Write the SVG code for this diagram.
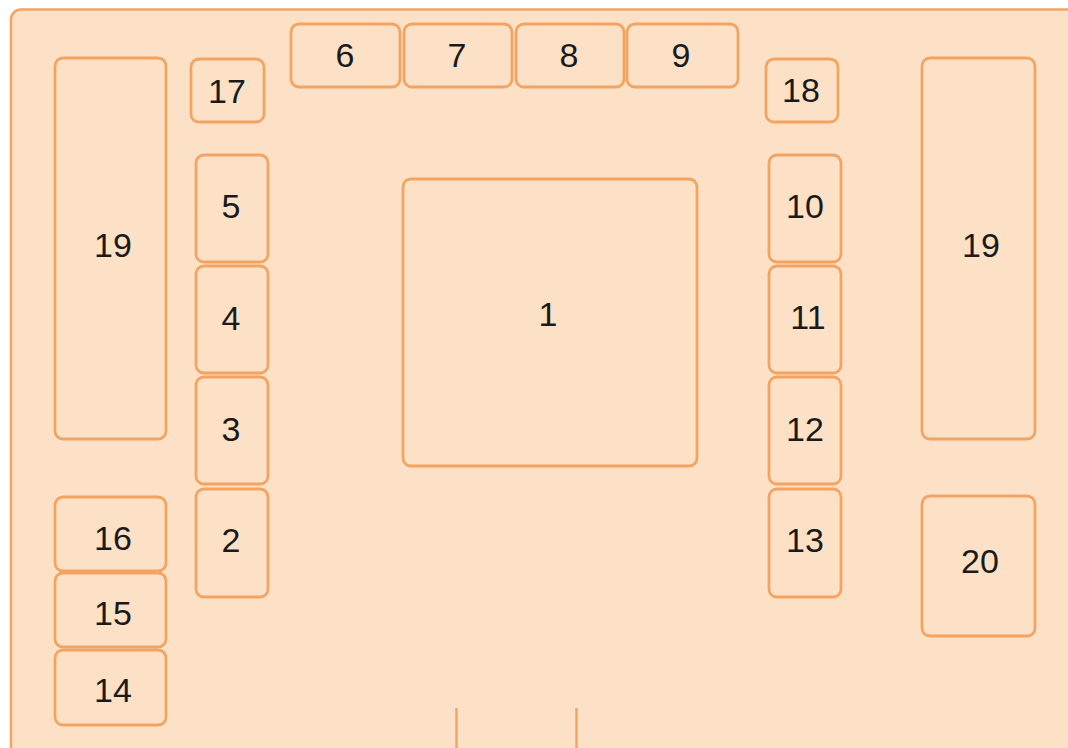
<svg xmlns="http://www.w3.org/2000/svg" width="1068" height="748" viewBox="0 0 1068 748">
<style>
.frame{fill:#FDE1C6;stroke:#F4A462;stroke-width:2.5}
.box{fill:#FDE1C6;stroke:#F4A462;stroke-width:2.8}
.lbl{font-family:"Liberation Sans",Arial,sans-serif;font-size:34px;fill:#1a1a1a;text-anchor:middle}
.conn{stroke:#F4A462;stroke-width:2.5;fill:none}
</style>
<rect width="1068" height="748" fill="#ffffff"/>
<rect class="frame" x="11" y="9.5" width="1070" height="760" rx="10"/>
<g id="n19L"><rect class="box" x="55" y="58" width="111" height="381" rx="8"/><text class="lbl" x="113" y="257">19</text></g>
<g id="n17"><rect class="box" x="191" y="59" width="73" height="63" rx="8"/><text class="lbl" x="227" y="103">17</text></g>
<g id="n5"><rect class="box" x="196" y="155" width="72" height="107" rx="8"/><text class="lbl" x="231" y="218">5</text></g>
<g id="n4"><rect class="box" x="196" y="266" width="72" height="107" rx="8"/><text class="lbl" x="231" y="330">4</text></g>
<g id="n3"><rect class="box" x="196" y="377" width="72" height="107" rx="8"/><text class="lbl" x="231" y="441">3</text></g>
<g id="n2"><rect class="box" x="196" y="489" width="72" height="108" rx="8"/><text class="lbl" x="231" y="552">2</text></g>
<g id="n16"><rect class="box" x="55" y="497" width="111" height="74" rx="8"/><text class="lbl" x="113" y="550">16</text></g>
<g id="n15"><rect class="box" x="55" y="573" width="111" height="74" rx="8"/><text class="lbl" x="113" y="625">15</text></g>
<g id="n14"><rect class="box" x="55" y="650" width="111" height="75" rx="8"/><text class="lbl" x="113" y="702">14</text></g>
<g id="n6"><rect class="box" x="291" y="24" width="109" height="63" rx="8"/><text class="lbl" x="345" y="67">6</text></g>
<g id="n7"><rect class="box" x="404" y="24" width="108" height="63" rx="8"/><text class="lbl" x="457" y="67">7</text></g>
<g id="n8"><rect class="box" x="516" y="24" width="108" height="63" rx="8"/><text class="lbl" x="569" y="67">8</text></g>
<g id="n9"><rect class="box" x="627" y="24" width="111" height="63" rx="8"/><text class="lbl" x="681" y="67">9</text></g>
<g id="n18"><rect class="box" x="766" y="59" width="72" height="63" rx="8"/><text class="lbl" x="801" y="102">18</text></g>
<g id="n10"><rect class="box" x="769" y="155" width="72" height="107" rx="8"/><text class="lbl" x="805" y="218">10</text></g>
<g id="n11"><rect class="box" x="769" y="266" width="72" height="107" rx="8"/><text class="lbl" x="808" y="329">11</text></g>
<g id="n12"><rect class="box" x="769" y="377" width="72" height="107" rx="8"/><text class="lbl" x="805" y="441">12</text></g>
<g id="n13"><rect class="box" x="769" y="489" width="72" height="108" rx="8"/><text class="lbl" x="805" y="552">13</text></g>
<g id="n19R"><rect class="box" x="922" y="58" width="113" height="381" rx="8"/><text class="lbl" x="981" y="257">19</text></g>
<g id="n20"><rect class="box" x="922" y="496" width="113" height="140" rx="8"/><text class="lbl" x="980" y="573">20</text></g>
<g id="n1"><rect class="box" x="403" y="179" width="294" height="287" rx="8"/><text class="lbl" x="548" y="326">1</text></g>
<g id="connectors">
<line class="conn" x1="456.5" y1="708" x2="456.5" y2="748"/>
<line class="conn" x1="576.5" y1="708" x2="576.5" y2="748"/>
</g>
</svg>
